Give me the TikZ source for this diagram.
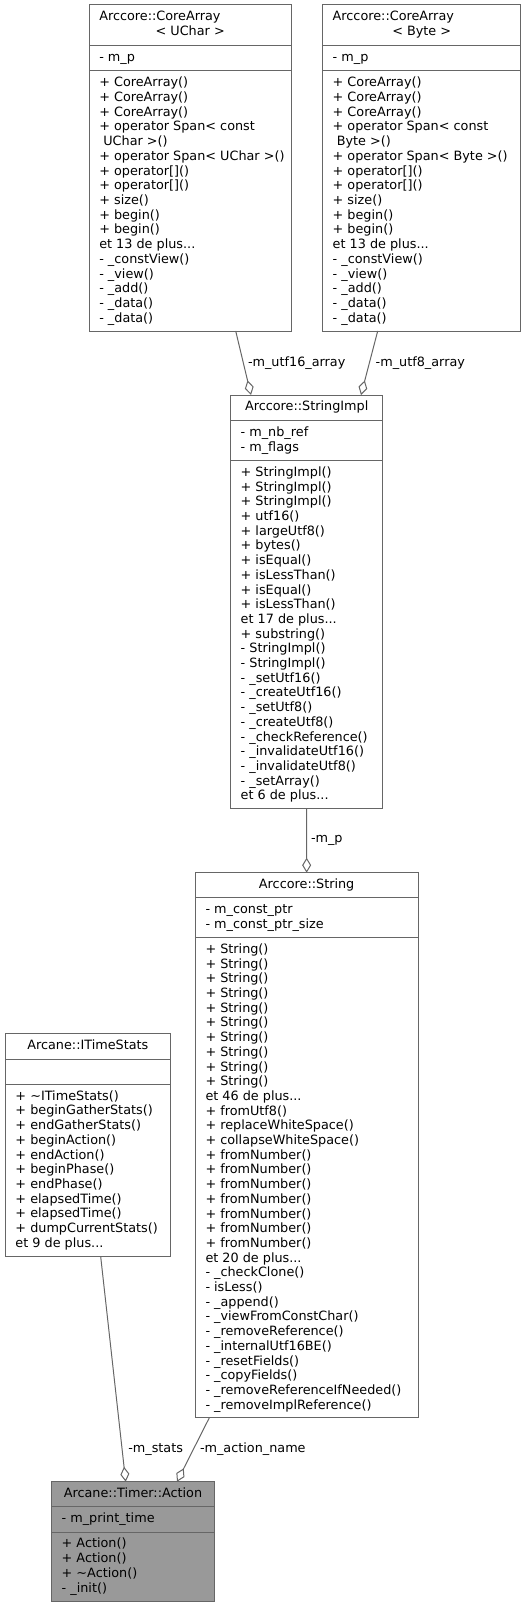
\documentclass[tikz,border=0pt]{standalone}
\usepackage{fontspec}
\setmainfont{DejaVu Sans}
\usetikzlibrary{arrows.meta}
\definecolor{edgegray}{HTML}{666666}
\definecolor{rootfill}{HTML}{999999}
\newcommand\mydots{...}
\tikzset{
  cls/.style={draw=edgegray, line width=1pt, fill=white, inner sep=0pt, outer sep=0pt, anchor=north west, rectangle},
  sepline/.style={draw=edgegray, line width=1pt},
  txt/.style={inner sep=0pt, outer sep=0pt, font=\fontsize{12.8}{14.7}\selectfont, text=black},
  assoc/.style={draw=edgegray, line width=1pt, -{Diamond[open, length=15pt, width=9pt]}},
  elabel/.style={txt, anchor=west},
}
% name, left, top, right, sep1, sep2, bottom, extra style
\newcommand\umlbox[8]{%
  \node[cls, #8, minimum width={#4-#2}, minimum height={#7-#3}] (#1) at (#2,#3) {};
  \draw[sepline] (#2,#5) -- (#4,#5);
  \draw[sepline] (#2,#6) -- (#4,#6);
}
% prefix, x, section top, anchor, list
\newcommand\members[5]{%
  \foreach \t [count=\i] in {#5} {
    \node[txt, anchor=#4] (#1\i) at ({#2},{#3+15.9+(\i-1)*14.7}) {\t};
  }
}
\begin{document}
\begin{tikzpicture}[x=1pt, y=-1pt]
\useasboundingbox (0,0) rectangle (526,1608);

% ---- CoreArray< UChar >
\umlbox{uchar}{89.3}{5}{291}{46}{71}{331}{}
\node[txt, anchor=base west] (ucharT1) at (99.3,20.9) {Arccore::CoreArray};
\node[txt, anchor=base] (ucharT2) at (190.2,35.6) {< UChar >};
\members{ucharA}{99.3}{46}{base west}{- m\_p}
\members{ucharM}{99.3}{71}{base west}{+ CoreArray(), + CoreArray(), + CoreArray(), + operator Span< const, \ UChar >(), + operator Span< UChar >(), + operator[](), + operator[](), + size(), + begin(), + begin(), et 13 de plus\mydots, - \_constView(), - \_view(), - \_add(), - \_data(), - \_data()}

% ---- CoreArray< Byte >
\umlbox{byte}{322.7}{5}{520.7}{46}{71}{331}{}
\node[txt, anchor=base west] (byteT1) at (332.7,20.9) {Arccore::CoreArray};
\node[txt, anchor=base] (byteT2) at (421.7,35.6) {< Byte >};
\members{byteA}{332.7}{46}{base west}{- m\_p}
\members{byteM}{332.7}{71}{base west}{+ CoreArray(), + CoreArray(), + CoreArray(), + operator Span< const, \ Byte >(), + operator Span< Byte >(), + operator[](), + operator[](), + size(), + begin(), + begin(), et 13 de plus\mydots, - \_constView(), - \_view(), - \_add(), - \_data(), - \_data()}

% ---- StringImpl
\umlbox{simpl}{230.7}{395}{382.7}{420.5}{460.5}{808.7}{}
\node[txt, anchor=base] (simplT) at (306.7,410.9) {Arccore::StringImpl};
\members{simplA}{240.7}{420.5}{base west}{- m\_nb\_ref, - m\_flags}
\members{simplM}{240.7}{460.5}{base west}{+ StringImpl(), + StringImpl(), + StringImpl(), + utf16(), + largeUtf8(), + bytes(), + isEqual(), + isLessThan(), + isEqual(), + isLessThan(), et 17 de plus\mydots, + substring(), - StringImpl(), - StringImpl(), - \_setUtf16(), - \_createUtf16(), - \_setUtf8(), - \_createUtf8(), - \_checkReference(), - \_invalidateUtf16(), - \_invalidateUtf8(), - \_setArray(), et 6 de plus\mydots}

% ---- String
\umlbox{string}{195}{872.7}{418.3}{897.7}{937.5}{1417.8}{}
\node[txt, anchor=base] (stringT) at (306.65,888.6) {Arccore::String};
\members{stringA}{205.5}{897.7}{base west}{- m\_const\_ptr, - m\_const\_ptr\_size}
\members{stringM}{205.5}{937.5}{base west}{+ String(), + String(), + String(), + String(), + String(), + String(), + String(), + String(), + String(), + String(), et 46 de plus\mydots, + fromUtf8(), + replaceWhiteSpace(), + collapseWhiteSpace(), + fromNumber(), + fromNumber(), + fromNumber(), + fromNumber(), + fromNumber(), + fromNumber(), + fromNumber(), et 20 de plus\mydots, - \_checkClone(), - isLess(), - \_append(), - \_viewFromConstChar(), - \_removeReference(), - \_internalUtf16BE(), - \_resetFields(), - \_copyFields(), - \_removeReferenceIfNeeded(), - \_removeImplReference()}

% ---- ITimeStats
\umlbox{its}{5}{1033.3}{170.7}{1059}{1084.3}{1256.7}{}
\node[txt, anchor=base] (itsT) at (87.85,1049.2) {Arcane::ITimeStats};
\members{itsM}{15.5}{1084.3}{base west}{+ \textasciitilde{}ITimeStats(), + beginGatherStats(), + endGatherStats(), + beginAction(), + endAction(), + beginPhase(), + endPhase(), + elapsedTime(), + elapsedTime(), + dumpCurrentStats(), et 9 de plus\mydots}

% ---- Timer::Action (root)
\umlbox{action}{51.7}{1481.7}{214.3}{1506.7}{1532}{1601.5}{fill=rootfill}
\node[txt, anchor=base] (actionT) at (133,1497.6) {Arcane::Timer::Action};
\members{actionA}{61.7}{1506.7}{base west}{- m\_print\_time}
\members{actionM}{61.7}{1532}{base west}{+ Action(), + Action(), + \textasciitilde{}Action(), - \_init()}

% ---- associations
\draw[assoc] ([xshift=146.4pt]uchar.south west) -- ([xshift=20.3pt]simpl.north west);
\draw[assoc] ([xshift=55pt]byte.south west) -- ([xshift=130.3pt]simpl.north west);
\draw[assoc] (simpl.south) -- (string.north);
\draw[assoc] ([xshift=95.7pt]its.south west) -- ([xshift=74pt]action.north west);
\draw[assoc] ([xshift=14.3pt]string.south west) -- ([xshift=125.3pt]action.north west);

\node[elabel] (l1) at (248,362.7) {-m\_utf16\_array};
\node[elabel] (l2) at (375.7,362.7) {-m\_utf8\_array};
\node[elabel] (l3) at (311,840) {-m\_p};
\node[elabel] (l4) at (128.3,1449) {-m\_stats};
\node[elabel] (l5) at (200,1449) {-m\_action\_name};
\end{tikzpicture}
\end{document}
